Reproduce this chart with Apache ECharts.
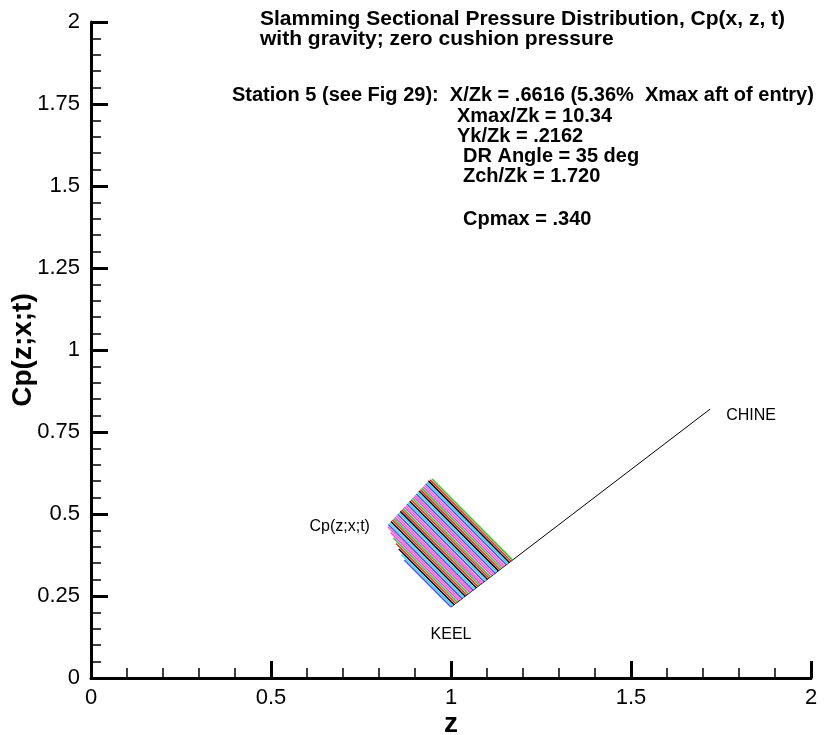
<!DOCTYPE html>
<html>
<head>
<meta charset="utf-8">
<script src="https://cdn.jsdelivr.net/npm/echarts@6/dist/echarts.min.js"></script>
<style>
html,body{margin:0;padding:0;background:#fff;}
#chart{width:840px;height:735px;}
</style>
</head>
<body>
<div id="chart"></div>
<script>
// ---- data ----
var xTickLabels = ['0', '0.5', '1', '1.5', '2'];
var yTickLabels = ['0', '0.25', '0.5', '0.75', '1', '1.25', '1.5', '1.75', '2'];

// hull section line: keel -> chine
var hullZ = [1.0, 1.72];
var hullCp = [0.2162, 0.82];

// pressure profile lines: start on hull, end at upper-left
var lineZHull = [1.0000, 1.0044, 1.0088, 1.0132, 1.0175, 1.0219, 1.0263, 1.0307, 1.0351, 1.0395,
  1.0438, 1.0482, 1.0526, 1.0570, 1.0614, 1.0658, 1.0702, 1.0746, 1.0789, 1.0833,
  1.0877, 1.0921, 1.0965, 1.1009, 1.1053, 1.1096, 1.1140, 1.1184, 1.1228, 1.1272,
  1.1316, 1.1360, 1.1404, 1.1447, 1.1491, 1.1535, 1.1579, 1.1623, 1.1667, 1.1711];
var lineCpHull = [0.2162, 0.2199, 0.2236, 0.2273, 0.2309, 0.2346, 0.2383, 0.2420, 0.2457, 0.2494,
  0.2530, 0.2567, 0.2604, 0.2641, 0.2678, 0.2714, 0.2751, 0.2788, 0.2825, 0.2862,
  0.2898, 0.2935, 0.2972, 0.3009, 0.3046, 0.3082, 0.3119, 0.3156, 0.3193, 0.3230,
  0.3266, 0.3303, 0.3340, 0.3377, 0.3414, 0.3450, 0.3487, 0.3524, 0.3561, 0.3598];
var lineZTop = [0.8702, 0.8626, 0.8551, 0.8475, 0.8399, 0.8323, 0.8248, 0.8258, 0.8295, 0.8332,
  0.8369, 0.8406, 0.8443, 0.8481, 0.8518, 0.8555, 0.8592, 0.8629, 0.8666, 0.8703,
  0.8740, 0.8777, 0.8814, 0.8852, 0.8889, 0.8926, 0.8963, 0.9000, 0.9037, 0.9074,
  0.9111, 0.9148, 0.9185, 0.9223, 0.9260, 0.9297, 0.9334, 0.9371, 0.9420, 0.9475];
var lineCpTop = [0.3595, 0.3764, 0.3932, 0.4101, 0.4270, 0.4438, 0.4607, 0.4682, 0.4726, 0.4771,
  0.4815, 0.4859, 0.4903, 0.4948, 0.4992, 0.5036, 0.5080, 0.5125, 0.5169, 0.5213,
  0.5257, 0.5302, 0.5346, 0.5390, 0.5434, 0.5479, 0.5523, 0.5567, 0.5611, 0.5656,
  0.5700, 0.5744, 0.5788, 0.5833, 0.5877, 0.5921, 0.5965, 0.6010, 0.6040, 0.6065];

var lineColors = ['#4a4aff', '#22ddff', '#000000', '#ff2020', '#22cc22', '#ff33ff', '#ff5fb5'];

var FONT = '"Liberation Sans", Arial, Helvetica, sans-serif';

// ---- build ----
var profileData = [];
for (var i = 0; i < lineZHull.length; i++) {
  profileData.push({
    coords: [[lineZHull[i], lineCpHull[i]], [lineZTop[i], lineCpTop[i]]],
    lineStyle: { color: lineColors[i % lineColors.length] }
  });
}

var chart = echarts.init(document.getElementById('chart'), null, { renderer: 'canvas' });

function axisCommon(labels, interval, isX) {
  return {
    type: 'value',
    min: 0,
    max: 2,
    interval: interval,
    axisLine: { show: true, onZero: false, lineStyle: { color: '#000', width: 3 } },
    axisTick: { show: true, inside: true, length: 17, lineStyle: { color: '#000', width: 3 } },
    minorTick: { show: true, splitNumber: 5, length: 10, lineStyle: { color: '#000', width: 1.5 } },
    splitLine: { show: false },
    minorSplitLine: { show: false },
    nameMoveOverlap: false,
    axisLabel: {
      color: '#000',
      fontSize: 22,
      fontFamily: FONT,
      margin: isX ? 9 : 11,
      formatter: function (v) {
        var idx = Math.round(v / interval);
        return labels[idx] !== undefined ? labels[idx] : '';
      }
    }
  };
}

var infoLines = [
  { t: 'Slamming Sectional Pressure Distribution, Cp(x, z, t)', x: 260, y: 20, f: 21 },
  { t: 'with gravity; zero cushion pressure', x: 260, y: 40, f: 21 },
  { t: 'Station 5 (see Fig 29):  X/Zk = .6616 (5.36%  Xmax aft of entry)', x: 232, y: 96, f: 20 },
  { t: 'Xmax/Zk = 10.34', x: 457, y: 117, f: 20 },
  { t: 'Yk/Zk = .2162', x: 457, y: 137, f: 20 },
  { t: 'DR Angle = 35 deg', x: 463, y: 157, f: 20 },
  { t: 'Zch/Zk = 1.720', x: 463, y: 177, f: 20 },
  { t: 'Cpmax = .340', x: 463, y: 220, f: 20 }
];
var graphics = infoLines.map(function (l) {
  return {
    type: 'text', left: l.x, top: l.y - 11, z: 100,
    style: { text: l.t, font: 'bold ' + l.f + 'px ' + FONT, fill: '#000' }
  };
});

chart.setOption({
  animation: false,
  backgroundColor: '#fff',
  grid: { left: 91, right: 29, top: 22, bottom: 57, containLabel: false, outerBoundsMode: 'none' },
  xAxis: Object.assign(axisCommon(xTickLabels, 0.5, true), {
    name: 'z', nameLocation: 'middle', nameGap: 32,
    nameTextStyle: { color: '#000', fontSize: 28, fontWeight: 'bold', fontFamily: FONT }
  }),
  yAxis: Object.assign(axisCommon(yTickLabels, 0.25, false), {
    name: 'Cp(z;x;t)', nameLocation: 'middle', nameGap: 54,
    nameTextStyle: { color: '#000', fontSize: 28, fontWeight: 'bold', fontFamily: FONT }
  }),
  graphic: graphics,
  series: [
    {
      type: 'line',
      data: [[hullZ[0], hullCp[0]], [hullZ[1], hullCp[1]]],
      symbol: 'none',
      lineStyle: { color: '#000', width: 1 },
      silent: true,
      z: 1,
      markPoint: {
        symbol: 'rect', symbolSize: 0,
        label: { show: true, color: '#000', fontSize: 16, fontFamily: FONT },
        data: [
          { coord: [hullZ[0], hullCp[0]], value: 'KEEL', label: { formatter: 'KEEL', position: 'bottom', distance: 20, offset: [0, 0] } },
          { coord: [hullZ[1], hullCp[1]], value: 'CHINE', label: { formatter: 'CHINE', position: 'right', distance: 16, offset: [0, 7] } }
        ]
      }
    },
    {
      type: 'lines',
      coordinateSystem: 'cartesian2d',
      polyline: false,
      silent: true,
      z: 2,
      lineStyle: { width: 1.5, opacity: 1 },
      data: profileData,
      markPoint: {
        symbol: 'rect', symbolSize: 0,
        label: { show: true, color: '#000', fontSize: 16, fontFamily: FONT },
        data: [
          { coord: [lineZTop[6], lineCpTop[6]], value: 'Cp', label: { formatter: 'Cp(z;x;t)', position: 'left', distance: 18, offset: [0, 0] } }
        ]
      }
    }
  ]
});
</script>
</body>
</html>
